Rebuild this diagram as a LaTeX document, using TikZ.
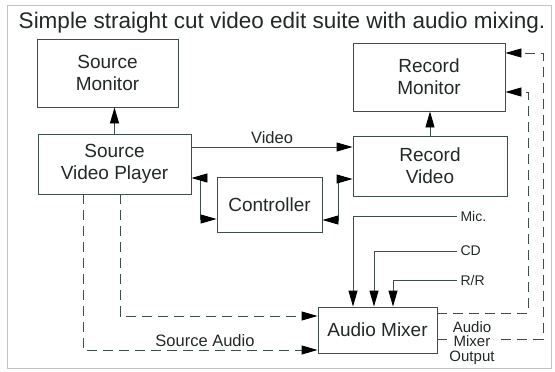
\documentclass[tikz,border=0pt]{standalone}
\usepackage{fontspec}
\setmainfont{Liberation Sans}
\usepackage{tikz}
\definecolor{BoxLine}{RGB}{62,78,74}
\definecolor{InkText}{RGB}{34,40,40}
\definecolor{FrameGray}{RGB}{195,195,195}
\usetikzlibrary{arrows.meta,positioning,calc}

\begin{document}
\begin{tikzpicture}[x=1pt,y=-1pt,
        unit/.style={draw=BoxLine,line width=0.9pt,align=center,text=InkText,
            font=\fontsize{19}{22}\selectfont,inner sep=0pt},
        sig/.style={draw=BoxLine,line width=0.9pt,-{Triangle[length=16pt,width=9pt,color=black]}},
        twoway/.style={sig,{Triangle[length=16pt,width=9pt,color=black]}-{Triangle[length=16pt,width=9pt,color=black]}},
        audio/.style={sig,dash pattern=on 10pt off 6pt},
        tag/.style={text=InkText,font=\fontsize{16.5}{18}\selectfont},
        smalltag/.style={text=InkText,font=\fontsize{14}{16}\selectfont,anchor=west}]
        \useasboundingbox (0,0) rectangle (555,372);

        % outer frame and heading
        \draw[FrameGray,line width=0.8pt] (7,5) rectangle (551,368);
        \node[text=InkText,font=\fontsize{22.5}{26}\selectfont] (title) at (282,23)
            {Simple straight cut video edit suite with audio mixing.};

        % Draw the units
        \node[unit,minimum width=141pt,minimum height=68pt] (srcmon) at (107.5,73) {Source\\Monitor};
        \node[unit,minimum width=152pt,minimum height=68pt] (recmon) at (429,77) {Record\\Monitor};
        \node[unit,minimum width=153pt,minimum height=60pt] (player) at (114.5,164) {Source\\Video Player};
        \node[unit,minimum width=154pt,minimum height=60pt] (recvid) at (430,166) {Record\\Video};
        \node[unit,minimum width=105pt,minimum height=55pt] (ctrl) at (269.5,204.5) {Controller};
        \node[unit,minimum width=119pt,minimum height=46pt] (mixer) at (377.5,330) {Audio Mixer};

        % video to the monitors
        \draw[sig] (player.north) -- (player.north |- srcmon.south);
        \draw[sig] (recvid.north) -- (recvid.north |- recmon.south);
        \draw[sig] ([yshift=17pt]player.east) -- ([yshift=17pt]player.east -| recvid.west)
            node[tag,midway,above]{Video};

        % control lines
        \draw[twoway] ([yshift=-14pt]player.east) -- ++(9,0) |- ([yshift=-14.5pt]ctrl.west);
        \draw[twoway] ([yshift=-15.5pt]ctrl.east) -- ++(16,0) |- ([yshift=-13pt]recvid.west);

        % Draw the audio inputs
        \node[smalltag] (mic) at (457,216) {Mic.};
        \node[smalltag] (cd) at (457,251) {CD};
        \node[smalltag] (rr) at (457,280) {R/R};
        \draw[sig] (mic.west) -| ([xshift=-24.5pt]mixer.north);
        \draw[sig] (cd.west) -| ([xshift=-3.5pt]mixer.north);
        \draw[sig] (rr.west) -| ([xshift=15.5pt]mixer.north);

        % source audio into the mixer
        \draw[audio] ([xshift=5.5pt]player.south) |- ([yshift=14pt]mixer.west);
        \draw[audio] ([xshift=-31.5pt]player.south) |- ([yshift=-20pt]mixer.west)
            node[tag,pos=0.76,above]{Source Audio};

        % mixer output back to the record monitor
        \coordinate (tapA) at (528,92);
        \coordinate (tapB) at (543,53);
        \draw[audio] ([yshift=17pt]mixer.east) -| (tapA) -- (tapA -| recmon.east);
        \draw[audio] ([yshift=-9pt]mixer.east) -| (tapB) -- (tapB -| recmon.east);
        \node[text=InkText,font=\fontsize{15}{14.5}\selectfont,align=center,fill=white,inner sep=1pt]
            (mixout) at (472,343) {Audio\\Mixer\\Output};
    \end{tikzpicture}
\end{document}
